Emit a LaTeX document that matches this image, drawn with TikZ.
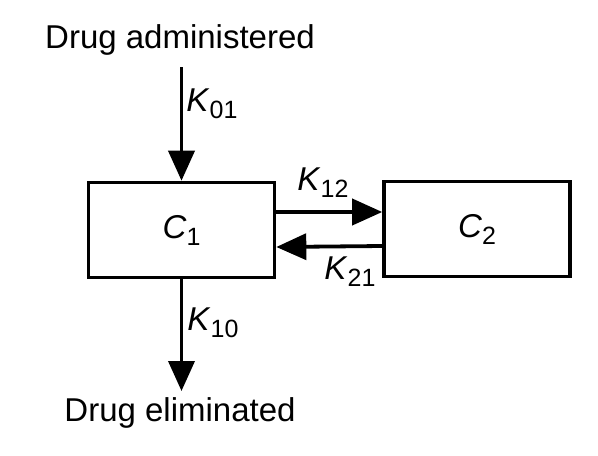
\documentclass[tikz,border=0pt]{standalone}
\usepackage{fontspec}
\setmainfont{Liberation Sans}
\usetikzlibrary{arrows.meta}
\newcommand\Ksub[2]{\textit{#1}\raisebox{-0.4ex}{\fontsize{12.5pt}{12.5pt}\selectfont #2}}
\begin{document}
\begin{tikzpicture}[x=0.5pt,y=-0.5pt,
  comp/.style={draw,line width=1.8pt,minimum width=93pt,minimum height=47.5pt,inner sep=0pt},
  flow/.style={line width=1.9pt,-{Triangle[length=15pt,width=13pt]}},
  lbl/.style={font=\fontsize{16.5pt}{18pt}\selectfont,inner sep=0pt}]
\useasboundingbox (0,0) rectangle (598,455);
\node[comp] (c1) at (181.5,230) {};
\node[comp] (c2) at (477,229) {};
\node[lbl] (t1) at (181.5,230) {\Ksub{C}{1}};
\node[lbl] (t2) at (477,229) {\Ksub{C}{2}};
\node[lbl] (adm) at (180,40) {Drug administered};
\node[lbl] (elim) at (180,413) {Drug eliminated};
\coordinate (top) at (181.5,67);
\coordinate (bot) at (181.5,391);
\draw[flow] (top) -- (c1.north);
\draw[flow] (c1.south) -- (bot);
\draw[flow] ([yshift=9pt]c1.east) -- ([yshift=8.5pt]c2.west);
\draw[flow] ([yshift=-8.5pt]c2.west) -- ([yshift=-8.5pt]c1.east);
\node[lbl] (k01) at (212,104) {\Ksub{K}{01}};
\node[lbl] (k10) at (213,323) {\Ksub{K}{10}};
\node[lbl] (k12) at (323,183) {\Ksub{K}{12}};
\node[lbl] (k21) at (350,272) {\Ksub{K}{21}};
\end{tikzpicture}
\end{document}
